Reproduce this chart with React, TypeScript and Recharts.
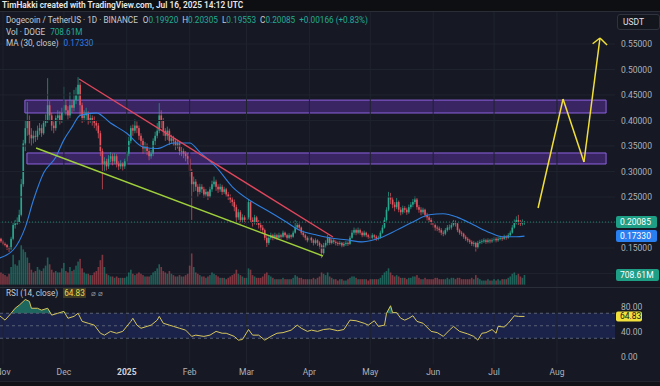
import React from "react";
import { ComposedChart, Bar, Line, Area, XAxis, YAxis, ReferenceLine, ReferenceArea } from "recharts";

// DOGE/USDT daily candles, Oct 30 2024 -> Jul 16 2025 (index = day)
const firstOpen = 0.17;
const closes = [
  .168, .163, .158, .156, .150, .148, .168, .195, .198, .200,
  .215, .275, .355, .385, .400, .372, .365, .370, .368, .380,
  .385, .375, .395, .400, .430, .410, .390, .385, .405, .410,
  .400, .415, .430, .420, .410, .430, .425, .440, .450, .470,
  .430, .405, .410, .415, .400, .405, .400, .395, .390, .375,
  .340, .315, .320, .310, .325, .330, .320, .330, .315, .310,
  .315, .310, .320, .335, .360, .385, .380, .390, .385, .370,
  .360, .345, .350, .340, .330, .335, .360, .370, .380, .410,
  .400, .380, .370, .380, .360, .365, .360, .350, .355, .340,
  .340, .335, .330, .325, .300, .275, .280, .270, .260, .270,
  .265, .255, .260, .250, .265, .275, .280, .270, .265, .270,
  .260, .265, .255, .250, .245, .240, .230, .210, .220, .205,
  .210, .205, .210, .240, .205, .200, .210, .200, .195, .190,
  .185, .170, .160, .170, .175, .170, .175, .170, .175, .172,
  .180, .175, .170, .175, .172, .180, .190, .195, .190, .180,
  .175, .170, .165, .170, .165, .160, .165, .160, .155, .140,
  .155, .160, .170, .160, .165, .162, .160, .158, .160, .155,
  .158, .160, .158, .170, .180, .185, .180, .185, .180, .175,
  .180, .175, .172, .170, .175, .172, .168, .170, .180, .190,
  .205, .225, .250, .245, .235, .230, .240, .225, .220, .228,
  .225, .220, .230, .235, .240, .245, .230, .225, .220, .225,
  .215, .210, .205, .200, .195, .190, .188, .185, .180, .178,
  .185, .190, .190, .195, .200, .198, .185, .180, .178, .172,
  .168, .165, .162, .158, .160, .150, .160, .162, .163, .165,
  .162, .165, .163, .165, .168, .165, .168, .170, .168, .172,
  .170, .175, .180, .190, .200, .205, .200, .198, .199, .20085,
];
const highs = [
  .174, .170, .166, .161, .158, .153, .172, .200, .205, .210,
  .225, .285, .362, .400, .436, .410, .385, .380, .380, .390,
  .395, .392, .400, .412, .483, .438, .415, .398, .410, .420,
  .418, .425, .466, .440, .428, .455, .440, .460, .465, .485,
  .475, .435, .420, .425, .418, .412, .410, .408, .400, .395,
  .380, .345, .328, .325, .332, .338, .335, .336, .334, .320,
  .322, .318, .325, .340, .368, .390, .392, .402, .398, .390,
  .375, .365, .358, .355, .345, .342, .365, .378, .395, .434,
  .420, .405, .385, .388, .384, .372, .370, .365, .362, .358,
  .348, .345, .340, .336, .330, .305, .290, .285, .275, .276,
  .275, .270, .266, .262, .270, .282, .290, .284, .275, .276,
  .274, .270, .268, .260, .255, .250, .245, .235, .226, .224,
  .216, .214, .215, .245, .242, .210, .215, .213, .205, .200,
  .195, .188, .175, .175, .180, .178, .180, .178, .180, .178,
  .184, .182, .178, .179, .177, .184, .205, .202, .198, .192,
  .184, .178, .173, .174, .172, .168, .169, .167, .163, .158,
  .160, .165, .176, .172, .169, .168, .165, .163, .164, .162,
  .162, .164, .163, .174, .185, .190, .188, .190, .188, .183,
  .184, .182, .178, .176, .179, .177, .175, .174, .184, .195,
  .210, .230, .260, .258, .250, .240, .248, .243, .230, .233,
  .232, .229, .235, .240, .246, .252, .248, .234, .230, .229,
  .227, .219, .214, .209, .204, .198, .194, .192, .189, .184,
  .189, .195, .196, .200, .205, .204, .200, .188, .183, .180,
  .175, .171, .168, .165, .164, .162, .164, .166, .167, .169,
  .168, .169, .168, .169, .172, .171, .172, .174, .173, .176,
  .175, .179, .184, .195, .206, .212, .215, .205, .206, .203,
];
const lows = [
  .164, .160, .155, .153, .146, .142, .146, .165, .188, .195,
  .198, .212, .270, .340, .370, .355, .350, .355, .358, .362,
  .372, .368, .372, .388, .395, .400, .380, .375, .380, .398,
  .392, .395, .410, .410, .402, .405, .415, .418, .432, .440,
  .410, .395, .398, .400, .392, .395, .390, .385, .380, .365,
  .330, .265, .300, .302, .305, .318, .312, .315, .308, .303,
  .305, .302, .305, .315, .330, .355, .370, .375, .375, .362,
  .350, .335, .338, .332, .322, .325, .330, .352, .365, .375,
  .385, .370, .360, .362, .352, .355, .350, .342, .345, .332,
  .330, .326, .320, .315, .290, .205, .260, .262, .250, .255,
  .258, .248, .250, .244, .248, .260, .270, .262, .258, .260,
  .254, .256, .250, .244, .238, .232, .222, .200, .205, .198,
  .200, .198, .200, .206, .200, .192, .196, .195, .188, .184,
  .178, .165, .152, .156, .166, .165, .167, .166, .168, .168,
  .170, .171, .166, .167, .168, .170, .178, .186, .184, .176,
  .171, .165, .161, .162, .160, .155, .157, .154, .148, .130,
  .137, .150, .155, .156, .157, .158, .155, .154, .155, .151,
  .152, .154, .154, .156, .168, .176, .175, .177, .176, .171,
  .172, .171, .168, .165, .167, .168, .164, .165, .168, .178,
  .188, .202, .222, .236, .228, .222, .226, .220, .214, .216,
  .219, .215, .217, .226, .230, .236, .225, .219, .214, .216,
  .210, .204, .200, .195, .190, .184, .183, .180, .175, .173,
  .175, .182, .185, .186, .192, .192, .181, .176, .173, .168,
  .164, .161, .158, .154, .153, .143, .148, .157, .158, .160,
  .158, .159, .159, .160, .162, .161, .162, .165, .164, .166,
  .166, .168, .173, .178, .188, .196, .195, .193, .194, .1955,
];
// volume, millions of DOGE
const volumes = [
  1100, 900, 800, 700, 600, 800, 1300, 2200, 1500, 1400,
  1800, 2900, 2600, 2400, 2000, 1600, 1100, 900, 1000, 1300,
  1100, 1000, 1200, 1400, 2000, 1500, 1100, 900, 1000, 900,
  900, 1200, 1600, 1000, 900, 1300, 1000, 1100, 1400, 1700,
  1900, 1200, 900, 800, 800, 700, 700, 900, 1000, 1300,
  1800, 2200, 1300, 800, 700, 600, 600, 500, 600, 500,
  500, 500, 500, 600, 900, 1100, 800, 700, 800, 900,
  800, 700, 600, 600, 600, 700, 900, 1000, 1200, 1500,
  1300, 1000, 900, 800, 1000, 800, 700, 600, 600, 700,
  600, 600, 700, 800, 1400, 2300, 1300, 900, 800, 700,
  600, 600, 500, 600, 700, 900, 800, 700, 600, 500,
  500, 500, 400, 500, 600, 700, 800, 1100, 800, 700,
  600, 500, 500, 1200, 1100, 700, 600, 500, 500, 500,
  600, 800, 900, 700, 600, 500, 400, 400, 400, 400,
  500, 400, 400, 400, 400, 500, 700, 600, 500, 500,
  400, 400, 400, 400, 400, 500, 400, 500, 600, 900,
  800, 700, 900, 600, 500, 400, 400, 300, 400, 400,
  300, 300, 400, 500, 600, 600, 500, 400, 400, 400,
  400, 400, 300, 400, 400, 400, 400, 400, 500, 700,
  900, 1000, 1200, 900, 700, 600, 700, 600, 500, 500,
  500, 400, 500, 500, 600, 600, 700, 500, 400, 400,
  500, 400, 400, 400, 400, 500, 500, 400, 400, 400,
  400, 500, 400, 500, 500, 400, 500, 500, 400, 400,
  400, 400, 400, 500, 400, 700, 500, 400, 300, 300,
  300, 400, 300, 300, 400, 300, 400, 300, 400, 400,
  400, 500, 600, 800, 900, 700, 800, 600, 500, 708.61,
];

const maDays = [0, 7, 13, 17, 22, 28, 32, 36, 40, 48, 55, 63, 71, 78, 86, 94, 99, 107, 115, 125, 132, 140, 148, 157, 163, 171, 179, 188, 196, 204, 212, 219, 226, 234, 242, 248, 255, 259];
const maValues = [.130, .146, .191, .244, .297, .328, .362, .387, .410, .415, .395, .375, .348, .345, .356, .356, .338, .309, .270, .240, .224, .205, .185, .175, .170, .166, .162, .170, .185, .201, .215, .217, .210, .195, .180, .172, .172, .1733];
const rsiDays = [0, 3, 6, 8, 10, 13, 15, 16, 19, 21, 24, 26, 29, 32, 34, 37, 39, 41, 44, 47, 50, 52, 55, 58, 61, 65, 66, 68, 70, 73, 75, 78, 79, 81, 84, 86, 89, 92, 95, 97, 101, 104, 107, 110, 112, 116, 118, 120, 123, 125, 128, 131, 134, 137, 140, 144, 147, 149, 152, 154, 157, 160, 163, 167, 170, 173, 176, 180, 182, 185, 187, 190, 191, 193, 194, 196, 198, 200, 202, 204, 206, 209, 213, 216, 219, 222, 224, 227, 231, 234, 236, 238, 240, 243, 245, 246, 249, 251, 254, 256, 259];
const rsiValues = [67, 59, 70, 78, 83, 92, 89, 78, 78, 75, 78, 67, 70, 73, 62, 65, 70, 57, 54, 51, 38, 35, 41, 38, 41, 57, 62, 51, 46, 49, 51, 59, 65, 54, 51, 49, 46, 43, 33, 35, 33, 35, 41, 38, 38, 33, 27, 28, 44, 35, 35, 27, 33, 38, 39, 43, 51, 46, 41, 43, 41, 44, 45, 42, 44, 59, 58, 54, 51, 58, 49, 51, 70, 82, 71, 71, 62, 59, 62, 66, 57, 54, 41, 39, 33, 43, 49, 41, 37, 33, 27, 38, 39, 44, 38, 49, 48, 54, 66, 65, 64.83];

const monthTicks = [2, 32, 63, 94, 122, 153, 183, 214, 244, 275];
const monthLabels = ["Nov", "Dec", "2025", "Feb", "Mar", "Apr", "May", "Jun", "Jul", "Aug"];
// 0.10000 and 0.20000 sit under the volume / last-price tags, so only the visible ones are labelled
const priceTicks = [0.15, 0.25, 0.3, 0.35, 0.4, 0.45, 0.5, 0.55];
const gridPrices = [0.1, 0.15, 0.2, 0.25, 0.3, 0.35, 0.4, 0.45, 0.5, 0.55];
const rsiTicks = [0, 40, 80];

// drawings on the chart (day, price)
const zones = [
  { x1: 12.8, x2: 299.2, y1: 0.4147, y2: 0.44 },
  { x1: 13.8, x2: 299.2, y1: 0.3147, y2: 0.3363 },
];
const resistance = [{ x: 39.5, y: 0.4814 }, { x: 164.6, y: 0.1715 }];
const support = [{ x: 18.3, y: 0.346 }, { x: 159.7, y: 0.1343 }];
const projection = [{ x: 265.7, y: 0.2284 }, { x: 278, y: 0.442 }, { x: 288.3, y: 0.3186 }, { x: 296.2, y: 0.5618 }];
const arrowHead = [{ x: 292.6, y: 0.5505 }, { x: 296.2, y: 0.5618 }, { x: 299.7, y: 0.548 }];

const lastClose = 0.20085;
const lastMa = 0.1733;
const lastVol = 708.61;
const lastRsi = 64.83;

const W = 660;
const X_DOMAIN: [number, number] = [0.52, 303.6];
const PRICE_DOMAIN: [number, number] = [0.0715, 0.6363];
const VOL_DOMAIN: [number, number] = [-250, 21000];
const RSI_DOMAIN: [number, number] = [-11.2, 110.4];

const FONT = "Roboto, 'Noto Sans', sans-serif";
const BG = "#161923";
const GRID = "#1f232e";
const AXIS = "#aeb1ba";
const UP = "#27a88f";
const DOWN = "#e5535f";
const BLUE = "#2f7fe0";

const rows = closes.map((close, i) => {
  const open = i === 0 ? firstOpen : closes[i - 1]; // daily candle opens at prior close
  const mi = maDays.indexOf(i);
  const ri = rsiDays.indexOf(i);
  const rsi = ri >= 0 ? rsiValues[ri] : null;
  return {
    d: i,
    open,
    close,
    high: highs[i],
    low: lows[i],
    range: [lows[i], highs[i]],
    vol: volumes[i],
    ma: mi >= 0 ? maValues[mi] : null,
    rsi,
    rsiOb: rsi === null ? null : [70, Math.max(70, rsi)],
  };
});

const Candle = (props: any) => {
  const { x, width, payload } = props;
  let { y, height } = props;
  if (height < 0) {
    y += height;
    height = -height;
  }
  const { open, close, high, low } = payload;
  const color = close >= open ? UP : DOWN;
  const span = high - low || 1;
  const toY = (v: number) => y + ((high - v) / span) * height;
  const cx = x + width / 2;
  const top = toY(Math.max(open, close));
  const bottom = toY(Math.min(open, close));
  return (
    <g>
      <line x1={cx} x2={cx} y1={y} y2={y + height} stroke={color} strokeWidth={0.7} />
      <rect x={cx - 0.8} y={top} width={1.6} height={Math.max(bottom - top, 0.7)} fill={color} />
    </g>
  );
};

const VolBar = (props: any) => {
  const { x, y, width, height, payload } = props;
  const color = payload.close >= payload.open ? UP : DOWN;
  return <rect x={x + width / 2 - 0.8} y={y} width={1.6} height={Math.max(height, 0)} fill={color} fillOpacity={0.5} />;
};

const tag = (viewBox: any, text: string, bg: string, fg: string, w: number, h = 12) => {
  if (!viewBox) return null;
  const x = viewBox.x + viewBox.width + 1;
  const y = viewBox.y;
  return (
    <g>
      <rect x={x} y={y - h / 2} width={w} height={h} rx={2} fill={bg} />
      <text x={x + 4} y={y + 3} fill={fg} fontSize={8.5} fontFamily={FONT}>
        {text}
      </text>
    </g>
  );
};

const MonthTick = (props: any) => {
  const { x, y, payload } = props;
  const label = monthLabels[monthTicks.indexOf(payload.value)];
  const isYear = label === "2025";
  return (
    <text x={x} y={y} dy="0.71em" textAnchor="middle" fill={isYear ? "#d1d4dc" : AXIS} fontSize={8.5} fontWeight={isYear ? 700 : 400} fontFamily={FONT}>
      {label}
    </text>
  );
};

const axisTick = { fill: AXIS, fontSize: 8.5, fontFamily: FONT };
const lbl = { color: "#c7cad1" };
const grn = { color: "#22ab94" };

export default function App() {
  return (
    <div style={{ position: "absolute", left: 0, top: 0, width: W, height: 386, background: BG, overflow: "hidden", fontFamily: FONT }}>
      {/* price pane */}
      <div style={{ position: "absolute", left: 0, top: 0 }}>
        <ComposedChart width={W} height={288} data={rows} margin={{ top: 0, right: 0, bottom: 0, left: 0 }}>
          <XAxis dataKey="d" type="number" domain={X_DOMAIN} allowDataOverflow hide />
          <YAxis
            orientation="right"
            width={45}
            type="number"
            domain={PRICE_DOMAIN}
            allowDataOverflow
            ticks={priceTicks}
            tickFormatter={(v: number) => v.toFixed(5)}
            axisLine={false}
            tickLine={false}
            tickSize={0}
            tickMargin={6}
            tick={axisTick}
          />
          {monthTicks.map((m) => (
            <ReferenceLine key={"gx" + m} x={m} stroke={GRID} />
          ))}
          {gridPrices.map((p) => (
            <ReferenceLine key={"gy" + p} y={p} stroke={GRID} />
          ))}
          {zones.map((z, i) => (
            <ReferenceArea key={"z" + i} x1={z.x1} x2={z.x2} y1={z.y1} y2={z.y2} fill="#6236b0" fillOpacity={0.45} stroke="#8f62e0" strokeWidth={1} />
          ))}
          <ReferenceLine y={lastClose} stroke={UP} strokeDasharray="1 2" strokeOpacity={0.7} label={(p: any) => tag(p.viewBox, "0.20085", "#1f9e86", "#ffffff", 41)} />
          <ReferenceLine y={lastMa} stroke="transparent" label={(p: any) => tag(p.viewBox, "0.17330", "#2a7ff0", "#ffffff", 41)} />
          <Bar dataKey="range" barSize={2} shape={Candle} isAnimationActive={false} />
          <Line dataKey="ma" type="monotone" stroke={BLUE} strokeWidth={1.1} dot={false} connectNulls isAnimationActive={false} />
          <ReferenceLine segment={resistance} stroke="#e0465c" strokeWidth={1.4} />
          <ReferenceLine segment={support} stroke="#9fcf3c" strokeWidth={1.4} />
          {projection.slice(1).map((p, i) => (
            <ReferenceLine key={"pj" + i} segment={[projection[i], p]} stroke="#f1df3a" strokeWidth={1.5} />
          ))}
          <ReferenceLine segment={[arrowHead[0], arrowHead[1]]} stroke="#f1df3a" strokeWidth={1.5} />
          <ReferenceLine segment={[arrowHead[1], arrowHead[2]]} stroke="#f1df3a" strokeWidth={1.5} />
        </ComposedChart>
      </div>

      {/* volume overlay */}
      <div style={{ position: "absolute", left: 0, top: 0 }}>
        <ComposedChart width={W} height={288} data={rows} margin={{ top: 0, right: 45, bottom: 0, left: 0 }}>
          <XAxis dataKey="d" type="number" domain={X_DOMAIN} allowDataOverflow hide />
          <YAxis hide domain={VOL_DOMAIN} allowDataOverflow />
          <Bar dataKey="vol" barSize={2} shape={VolBar} isAnimationActive={false} />
          <ReferenceLine y={lastVol} stroke="transparent" label={(p: any) => tag(p.viewBox, "708.61M", "#1f9e86", "#ffffff", 43)} />
        </ComposedChart>
      </div>

      {/* RSI pane */}
      <div style={{ position: "absolute", left: 0, top: 287, width: W, height: 1, background: "#2a2e39" }} />
      <div style={{ position: "absolute", left: 0, top: 288 }}>
        <ComposedChart width={W} height={98} data={rows} margin={{ top: 0, right: 0, bottom: 0, left: 0 }}>
          <XAxis
            dataKey="d"
            type="number"
            domain={X_DOMAIN}
            allowDataOverflow
            ticks={monthTicks}
            interval={0}
            height={22}
            axisLine={false}
            tickLine={false}
            tickSize={0}
            tickMargin={5}
            tick={MonthTick}
          />
          <YAxis
            orientation="right"
            width={45}
            type="number"
            domain={RSI_DOMAIN}
            allowDataOverflow
            ticks={rsiTicks}
            tickFormatter={(v: number) => v.toFixed(2)}
            axisLine={false}
            tickLine={false}
            tickSize={0}
            tickMargin={6}
            tick={axisTick}
          />
          {monthTicks.map((m) => (
            <ReferenceLine key={"rx" + m} x={m} stroke={GRID} />
          ))}
          <ReferenceArea y1={30} y2={70} fill="#22307a" fillOpacity={0.45} />
          {[70, 50, 30].map((v) => (
            <ReferenceLine key={"rl" + v} y={v} stroke="#5a6075" strokeDasharray="3 3" />
          ))}
          <Area dataKey="rsiOb" type="linear" stroke="none" fill={UP} fillOpacity={0.55} connectNulls isAnimationActive={false} />
          <Line dataKey="rsi" type="linear" stroke="#d7c65c" strokeWidth={1} dot={false} connectNulls isAnimationActive={false} />
          <ReferenceLine y={lastRsi} stroke="transparent" label={(p: any) => tag(p.viewBox, "64.83", "#f2e03c", "#131722", 26, 10)} />
        </ComposedChart>
      </div>

      {/* header + legends */}
      <div style={{ position: "absolute", left: 0, top: 0, width: W, height: 11, background: "#0e0f12", borderBottom: "1px solid #2a2d35", color: "#e8e8e8", fontSize: 8.3, fontWeight: 600, lineHeight: "11px", paddingLeft: 2, whiteSpace: "nowrap" }}>
        TimHakki created with TradingView.com, Jul 16, 2025 14:12 UTC
      </div>
      <div style={{ position: "absolute", left: 6, top: 15, fontSize: 8.2, lineHeight: "10px", whiteSpace: "nowrap" }}>
        <span style={lbl}>Dogecoin / TetherUS · 1D · BINANCE</span>
        <span style={{ ...lbl, marginLeft: 5 }}>O</span>
        <span style={grn}>0.19920</span>
        <span style={{ ...lbl, marginLeft: 4 }}>H</span>
        <span style={grn}>0.20305</span>
        <span style={{ ...lbl, marginLeft: 4 }}>L</span>
        <span style={grn}>0.19553</span>
        <span style={{ ...lbl, marginLeft: 4 }}>C</span>
        <span style={grn}>0.20085</span>
        <span style={{ ...grn, marginLeft: 4 }}>+0.00166 (+0.83%)</span>
      </div>
      <div style={{ position: "absolute", left: 6, top: 27, fontSize: 8.2, lineHeight: "10px", whiteSpace: "nowrap" }}>
        <span style={lbl}>Vol · DOGE</span>
        <span style={{ ...grn, marginLeft: 5 }}>708.61M</span>
      </div>
      <div style={{ position: "absolute", left: 6, top: 38, fontSize: 8.2, lineHeight: "10px", whiteSpace: "nowrap" }}>
        <span style={lbl}>MA (30, close)</span>
        <span style={{ color: BLUE, marginLeft: 5 }}>0.17330</span>
      </div>
      <div style={{ position: "absolute", left: 617, top: 14, width: 43, height: 16, boxSizing: "border-box", border: "1px solid #2f333e", borderRadius: 3, background: "#14161d", color: "#e0e2e8", fontSize: 8.5, lineHeight: "14px", paddingLeft: 5 }}>
        USDT
      </div>
      <div style={{ position: "absolute", left: 6, top: 288, fontSize: 8.2, lineHeight: "10px", whiteSpace: "nowrap" }}>
        <span style={lbl}>RSI (14, close)</span>
        <span style={{ color: "#eadb4a", background: "rgba(180,160,40,0.25)", marginLeft: 5, padding: "0 1px" }}>64.83</span>
        <span style={{ color: "#8a8e99", marginLeft: 5 }}>⌀ ⌀</span>
      </div>
      <div style={{ position: "absolute", left: 0, top: 381, width: W, height: 5, background: "#101217", borderTop: "1px solid #22252e" }} />
    </div>
  );
}
